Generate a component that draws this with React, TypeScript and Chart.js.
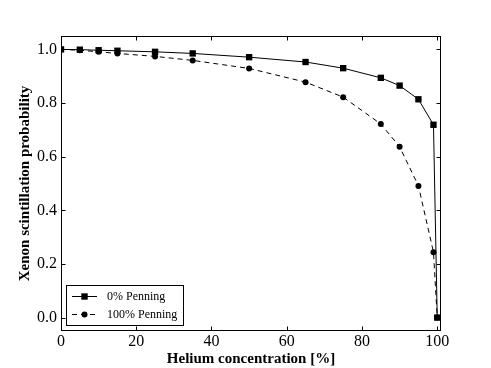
import React, { useEffect, useRef } from "react";
import { Chart, registerables } from "chart.js";

Chart.register(...registerables);

const heliumPct = [0, 5, 10, 15, 25, 35, 50, 65, 75, 85, 90, 95, 99, 100];
const penning0 = [1.0, 0.999, 0.997, 0.995, 0.991, 0.985, 0.971, 0.953, 0.93, 0.894, 0.865, 0.814, 0.719, 0.0];
const penning100 = [1.0, 0.997, 0.991, 0.985, 0.974, 0.959, 0.929, 0.878, 0.822, 0.722, 0.637, 0.491, 0.244, 0.0];
const seriesLabels = ["0% Penning", "100% Penning"];
const xTicks = [0, 20, 40, 60, 80, 100];
const yTicks = [0.0, 0.2, 0.4, 0.6, 0.8, 1.0];
const xTitle = "Helium concentration [%]";
const yTitle = "Xenon scintillation probability";

const FONT = "'Liberation Serif', 'Times New Roman', serif";

const framePlugin = {
  id: "frameTicks",
  afterDatasetsDraw(chart: any) {
    const { ctx, chartArea: a, scales } = chart;
    ctx.save();
    ctx.strokeStyle = "#000";
    ctx.lineWidth = 1;
    const L = Math.round(a.left) + 0.5;
    const R = Math.round(a.right) - 0.5;
    const T = Math.round(a.top) + 0.5;
    const B = Math.round(a.bottom) - 0.5;
    ctx.strokeRect(L, T, R - L, B - T);
    const len = 4;
    ctx.beginPath();
    for (const v of xTicks) {
      const x = Math.round(scales.x.getPixelForValue(v)) + 0.5;
      ctx.moveTo(x, B);
      ctx.lineTo(x, B - len);
      ctx.moveTo(x, T);
      ctx.lineTo(x, T + len);
    }
    for (const v of yTicks) {
      const y = Math.round(scales.y.getPixelForValue(v)) + 0.5;
      ctx.moveTo(L, y);
      ctx.lineTo(L + len, y);
      ctx.moveTo(R, y);
      ctx.lineTo(R - len, y);
    }
    ctx.stroke();

    // legend
    const bx = 66.5, by = 285.5, bw = 117, bh = 40;
    ctx.fillStyle = "#fff";
    ctx.fillRect(bx, by, bw, bh);
    ctx.strokeRect(bx, by, bw, bh);
    const rows = [296, 314];
    chart.data.datasets.forEach((ds: any, i: number) => {
      const y = rows[i];
      ctx.save();
      ctx.setLineDash(ds.borderDash || []);
      ctx.lineWidth = 1;
      ctx.strokeStyle = "#000";
      ctx.beginPath();
      ctx.moveTo(72, y + 0.5);
      ctx.lineTo(97, y + 0.5);
      ctx.stroke();
      ctx.restore();
      ctx.fillStyle = "#000";
      if (ds.pointStyle === "rect") {
        ctx.fillRect(84.5 - 3.2, y + 0.5 - 3.2, 6.4, 6.4);
      } else {
        ctx.beginPath();
        ctx.arc(84.5, y + 0.5, 3, 0, Math.PI * 2);
        ctx.fill();
      }
      ctx.font = `12px ${FONT}`;
      ctx.textBaseline = "middle";
      ctx.textAlign = "left";
      ctx.fillText(ds.label, 107, y + 1);
    });
    ctx.restore();
  },
};

export default function App() {
  const ref = useRef<HTMLCanvasElement | null>(null);
  useEffect(() => {
    document.body.style.margin = "0";
    const chart = new Chart(ref.current as HTMLCanvasElement, {
      type: "line",
      data: {
        datasets: [
          {
            label: seriesLabels[0],
            data: heliumPct.map((x, i) => ({ x, y: penning0[i] })),
            borderColor: "#000",
            backgroundColor: "#000",
            borderWidth: 1,
            pointStyle: "rect",
            pointRadius: 4.5,
            pointBackgroundColor: "#000",
            pointBorderWidth: 0,
            tension: 0,
          },
          {
            label: seriesLabels[1],
            data: heliumPct.map((x, i) => ({ x, y: penning100[i] })),
            borderColor: "#000",
            backgroundColor: "#000",
            borderWidth: 1,
            borderDash: [5, 4],
            pointStyle: "circle",
            pointRadius: 3,
            pointBackgroundColor: "#000",
            pointBorderWidth: 0,
            tension: 0,
          },
        ],
      },
      options: {
        animation: false,
        responsive: false,
        events: [],
        layout: { padding: { left: 0, top: 36, right: 50, bottom: 0 } },
        plugins: { legend: { display: false }, tooltip: { enabled: false } },
        scales: {
          x: {
            type: "linear",
            min: 0,
            max: 101,
            grid: { display: false, drawTicks: false },
            border: { display: false },
            afterBuildTicks: (s: any) => {
              s.ticks = xTicks.map((v) => ({ value: v }));
            },
            afterFit: (s: any) => {
              s.height = 37;
            },
            ticks: {
              color: "#000",
              font: { family: FONT, size: 16 },
              padding: 1,
              maxRotation: 0,
              callback: (v: any) => String(v),
            },
            title: {
              display: true,
              text: xTitle,
              color: "#000",
              font: { family: FONT, size: 15, weight: "bold" },
              padding: { top: 0, bottom: 0 },
            },
          },
          y: {
            type: "linear",
            min: -0.05,
            max: 1.05,
            grid: { display: false, drawTicks: false },
            border: { display: false },
            afterBuildTicks: (s: any) => {
              s.ticks = yTicks.map((v) => ({ value: v }));
            },
            afterFit: (s: any) => {
              s.width = 61;
            },
            ticks: {
              color: "#000",
              font: { family: FONT, size: 16 },
              padding: 4,
              callback: (v: any) => Number(v).toFixed(1),
            },
            title: {
              display: true,
              text: yTitle,
              color: "#000",
              font: { family: FONT, size: 15, weight: "bold" },
              padding: { top: 16, bottom: 0 },
            },
          },
        },
      },
      plugins: [framePlugin],
    } as any);
    return () => chart.destroy();
  }, []);
  return (
    <div style={{ position: "absolute", left: 0, top: 0, width: 491, height: 368, background: "#fff" }}>
      <canvas ref={ref} width={491} height={368} style={{ width: 491, height: 368, display: "block" }} />
    </div>
  );
}
